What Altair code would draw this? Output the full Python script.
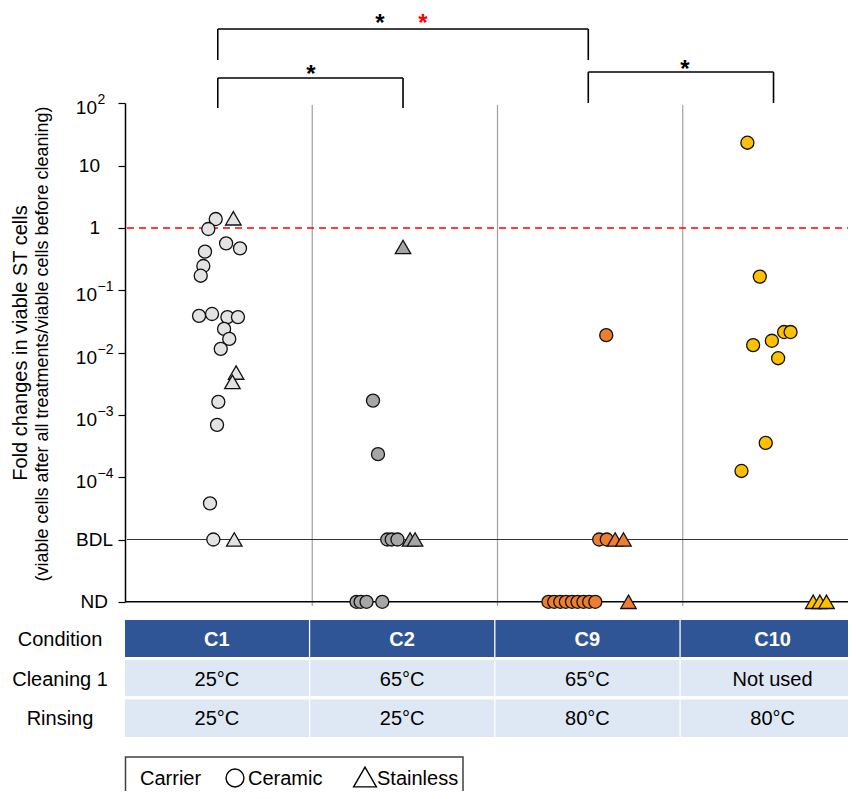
import altair as alt
import pandas as pd

# ---------------- data ----------------
groups = ["C1", "C2", "C9", "C10"]
group_colors = ["#e3e3e3", "#a6a6a6", "#ed7d31", "#ffc000"]
carriers = ["Ceramic", "Stainless"]

# log10 fold change (BDL = -5, ND = -6); offset = position within column (fraction of column width)
c1_cer_log = [0.144, -0.016, -0.38, -0.61, -0.766, -0.246, -0.326, -1.41, -1.38, -1.43, -1.43, -1.62, -1.78, -1.94, -2.79, -3.16, -4.42, -5]
c1_cer_off = [-0.021, -0.061, -0.079, -0.088, -0.102, 0.035, 0.110, -0.111, -0.041, 0.042, 0.099, 0.024, 0.052, 0.006, -0.007, -0.014, -0.052, -0.034]
c1_sta_log = [0.156, -2.32, -2.47, -5]
c1_sta_off = [0.074, 0.089, 0.069, 0.079]

c2_cer_log = [-2.77, -3.63, -5, -5, -5, -6, -6, -6, -6]
c2_cer_off = [-0.172, -0.145, -0.095, -0.071, -0.040, -0.261, -0.239, -0.207, -0.122]
c2_sta_log = [-0.305, -5, -5]
c2_sta_off = [-0.010, 0.028, 0.055]

c9_cer_log = [-1.72, -5, -5, -6, -6, -6, -6, -6, -6, -6, -6, -6]
c9_cer_off = [0.087, 0.049, 0.090, -0.225, -0.194, -0.161, -0.131, -0.098, -0.068, -0.036, -0.005, 0.028]
c9_sta_log = [-5, -5, -6]
c9_sta_off = [0.135, 0.180, 0.207]

c10_cer_log = [1.369, -0.78, -1.88, -1.81, -2.09, -1.67, -1.67, -3.45, -3.90]
c10_cer_off = [-0.151, -0.084, -0.120, -0.019, 0.015, 0.047, 0.082, -0.052, -0.183]
c10_sta_log = [-6, -6, -6]
c10_sta_off = [0.204, 0.240, 0.276]

tick_values = [2, 1, 0, -1, -2, -3, -4, -5, -6]
tick_base = ["10", "10", "1", "10", "10", "10", "10", "BDL", "ND"]
tick_exp = ["2", "", "", "−1", "−2", "−3", "−4", "", ""]

row_names = ["Condition", "Cleaning 1", "Rinsing"]
cleaning1 = ["25°C", "65°C", "65°C", "Not used"]
rinsing = ["25°C", "25°C", "80°C", "80°C"]

# significance brackets: from group, to group
br_from = [0, 0, 2]
br_to = [2, 1, 3]
y_title_1 = "Fold changes in viable ST cells"
y_title_2 = "(viable cells after all treatments/viable cells before cleaning)"
legend_title = "Carrier"

# ---------------- layout helpers ----------------
FONT = "Liberation Sans"
X = lambda px: (px - 127) / 185.25   # page px -> x data units (columns)
V = lambda py: (228 - py) / 62.3     # page px -> log10 units
DV = lambda dpx: -dpx / 62.3         # downward pixel offset -> log10 units

xs = alt.Scale(domain=[X(125), X(848)], nice=False, zero=False)
ys = alt.Scale(domain=[V(791), V(8)], nice=False, zero=False)
W, H = 723, 783

yaxis = alt.Axis(
    values=tick_values, labels=False, title=None, grid=False, domain=False,
    tickSize=7, tickColor="black", tickWidth=1.2)

xenc = lambda f: alt.X(f, type="quantitative", scale=xs, axis=None)
yenc = lambda f: alt.Y(f, type="quantitative", scale=ys, axis=yaxis)

# ---------------- build point table ----------------
rows = []
sets = [
    ("C1", c1_cer_log, c1_cer_off, c1_sta_log, c1_sta_off),
    ("C2", c2_cer_log, c2_cer_off, c2_sta_log, c2_sta_off),
    ("C9", c9_cer_log, c9_cer_off, c9_sta_log, c9_sta_off),
    ("C10", c10_cer_log, c10_cer_off, c10_sta_log, c10_sta_off),
]
for carrier_i, carrier in enumerate(carriers):
    for g, cl, co, sl, so in sets:
        gi = groups.index(g)
        lg, of = (cl, co) if carrier_i == 0 else (sl, so)
        for v, o in zip(lg, of):
            rows.append({"group": g, "carrier": carrier, "xpos": gi + 0.5 + o, "logv": v})
pts_df = pd.DataFrame(rows)

points = alt.Chart(pts_df).mark_point(
    filled=True, stroke="#111111", strokeWidth=1.3, opacity=1, fillOpacity=1, strokeOpacity=1
).encode(
    x=xenc("xpos"),
    y=yenc("logv"),
    shape=alt.Shape("carrier:N", scale=alt.Scale(domain=carriers, range=["circle", "triangle-up"]), legend=None),
    size=alt.Size("carrier:N", scale=alt.Scale(domain=carriers, range=[170, 240]), legend=None),
    fill=alt.Fill("group:N", scale=alt.Scale(domain=groups, range=group_colors), legend=None),
)

# y tick labels (base + superscript exponent)
base_rows, exp_rows = [], []
for v, b, e in zip(tick_values, tick_base, tick_exp):
    if e:
        base_rows.append({"x": X(97), "y": v + DV(5), "t": b})
        exp_rows.append({"x": X(97.5), "y": v + DV(-3), "t": e})
    elif b in ("BDL", "ND"):
        base_rows.append({"x": X(113 if b == "BDL" else 108), "y": v, "t": b})
    else:
        base_rows.append({"x": X(100), "y": v, "t": b})
tlab = alt.Chart(pd.DataFrame(base_rows)).mark_text(
    fontSize=19, color="black", font=FONT, align="right", baseline="middle").encode(
    x=xenc("x"), y=yenc("y"), text="t:N")
texp = alt.Chart(pd.DataFrame(exp_rows)).mark_text(
    fontSize=14, color="black", font=FONT, align="left", baseline="middle").encode(
    x=xenc("x"), y=yenc("y"), text="t:N")

# separators between conditions
sep_df = pd.DataFrame({"x": [1, 2, 3], "y": [V(105)] * 3, "y2": [V(606)] * 3})
seps = alt.Chart(sep_df).mark_rule(color="#a0a0a0", strokeWidth=1.2).encode(
    x=xenc("x"), y=yenc("y"), y2="y2")

ref_df = pd.DataFrame({"x": [0], "x2": [4.2], "y": [0]})
refline = alt.Chart(ref_df).mark_rule(color="#ff0000", strokeWidth=1.5, strokeDash=[7, 5]).encode(
    x=xenc("x"), x2="x2", y=yenc("y"))

bdl_df = pd.DataFrame({"x": [0], "x2": [4.2], "y": [-5]})
bdl = alt.Chart(bdl_df).mark_rule(color="#333333", strokeWidth=1).encode(
    x=xenc("x"), x2="x2", y=yenc("y"))

nd_df = pd.DataFrame({"x": [X(125)], "x2": [4.2], "y": [-6]})
nd = alt.Chart(nd_df).mark_rule(color="black", strokeWidth=1.5).encode(
    x=xenc("x"), x2="x2", y=yenc("y"))

yax_df = pd.DataFrame({"x": [X(125.5)], "y": [2], "y2": [-6]})
yax = alt.Chart(yax_df).mark_rule(color="black", strokeWidth=1.5).encode(
    x=xenc("x"), y=yenc("y"), y2="y2")

# brackets
br_top = [V(29), V(78), V(72)]
br_lfoot = [V(60), V(108), V(103)]
br_rfoot = [V(60), V(108), V(103)]
segs = []
for f, t, top, lf, rf in zip(br_from, br_to, br_top, br_lfoot, br_rfoot):
    xl, xr = f + 0.49, t + 0.49
    segs.append({"x": xl, "x2": xr, "y": top, "y2": top})
    segs.append({"x": xl, "x2": xl, "y": top, "y2": lf})
    segs.append({"x": xr, "x2": xr, "y": top, "y2": rf})
br = alt.Chart(pd.DataFrame(segs)).mark_rule(color="black", strokeWidth=1.6).encode(
    x=xenc("x"), x2="x2", y=yenc("y"), y2="y2")

star_df = pd.DataFrame({
    "x": [X(380), X(423), X(311), X(685)],
    "y": [V(31), V(31), V(82), V(77)],
    "t": ["*", "*", "*", "*"],
    "c": ["black", "red", "black", "black"],
})
stars = alt.Chart(star_df).mark_text(fontSize=24, fontWeight="bold", font=FONT, baseline="alphabetic").encode(
    x=xenc("x"), y=yenc("y"), text="t:N", color=alt.Color("c:N", scale=None))

# table
cells = []
row_tops = [620, 660, 699.5]
row_bots = [657, 696, 737]
for ri in range(3):
    for ci in range(4):
        cells.append({"x": ci - 0.011, "x2": ci + 0.982, "y": V(row_tops[ri]), "y2": V(row_bots[ri]),
                      "fill": "#2f5597" if ri == 0 else "#dde8f4"})
table = alt.Chart(pd.DataFrame(cells)).mark_rect().encode(
    x=xenc("x"), x2="x2", y=yenc("y"), y2="y2", fill=alt.Fill("fill:N", scale=None))

hdr_df = pd.DataFrame({"x": [i + 0.485 for i in range(4)], "y": [V(640)] * 4, "t": groups})
hdr = alt.Chart(hdr_df).mark_text(fontSize=20, fontWeight="bold", color="white", font=FONT, baseline="middle").encode(
    x=xenc("x"), y=yenc("y"), text="t:N")

body_rows = []
for i in range(4):
    body_rows.append({"x": i + 0.485, "y": V(679.5), "t": cleaning1[i]})
    body_rows.append({"x": i + 0.485, "y": V(718.5), "t": rinsing[i]})
body = alt.Chart(pd.DataFrame(body_rows)).mark_text(fontSize=20, color="black", font=FONT, baseline="middle").encode(
    x=xenc("x"), y=yenc("y"), text="t:N")

rl_df = pd.DataFrame({"x": [X(60)] * 3, "y": [V(639.5), V(679.5), V(718.5)], "t": row_names})
rowlab = alt.Chart(rl_df).mark_text(fontSize=20, color="black", font=FONT, baseline="middle").encode(
    x=xenc("x"), y=yenc("y"), text="t:N")

# y title
yt_df = pd.DataFrame({"x": [X(21), X(43)], "y": [V(343), V(344)], "t": [y_title_1, y_title_2], "s": [20, 18]})
ytitle = alt.Chart(yt_df).mark_text(angle=270, color="black", font=FONT, baseline="middle").encode(
    x=xenc("x"), y=yenc("y"), text="t:N", size=alt.Size("s:Q", scale=None))

# legend box
lbox_df = pd.DataFrame({"x": [X(125.5)], "x2": [X(463)], "y": [V(757)], "y2": [V(815)]})
lbox = alt.Chart(lbox_df).mark_rect(fill="white", stroke="#404040", strokeWidth=1.5).encode(
    x=xenc("x"), x2="x2", y=yenc("y"), y2="y2")
ltxt_df = pd.DataFrame({"x": [X(140), X(248), X(377)], "y": [V(779)] * 3, "t": [legend_title] + carriers})
ltxt = alt.Chart(ltxt_df).mark_text(fontSize=20, color="black", font=FONT, align="left", baseline="middle").encode(
    x=xenc("x"), y=yenc("y"), text="t:N")
lsym_df = pd.DataFrame({"x": [X(235), X(365)], "y": [V(778), V(777)], "carrier": carriers})
lsym = alt.Chart(lsym_df).mark_point(filled=False, stroke="black", strokeWidth=1.4, opacity=1).encode(
    x=xenc("x"), y=yenc("y"),
    shape=alt.Shape("carrier:N", scale=alt.Scale(domain=carriers, range=["circle", "triangle-up"]), legend=None),
    size=alt.Size("carrier:N", scale=alt.Scale(domain=carriers, range=[320, 520]), legend=None),
)

chart = alt.layer(
    seps, refline, bdl, nd, yax, br, stars, points, tlab, texp, table, hdr, body, rowlab, ytitle, lbox, ltxt, lsym
).resolve_scale(size="independent", shape="independent").properties(
    width=W, height=H,
    autosize=alt.AutoSizeParams(type="none"),
    padding={"left": 117, "top": 0, "right": 0, "bottom": 0},
).configure_view(strokeWidth=0)

chart.save("out.html", embed_options={"renderer": "svg", "actions": False})
